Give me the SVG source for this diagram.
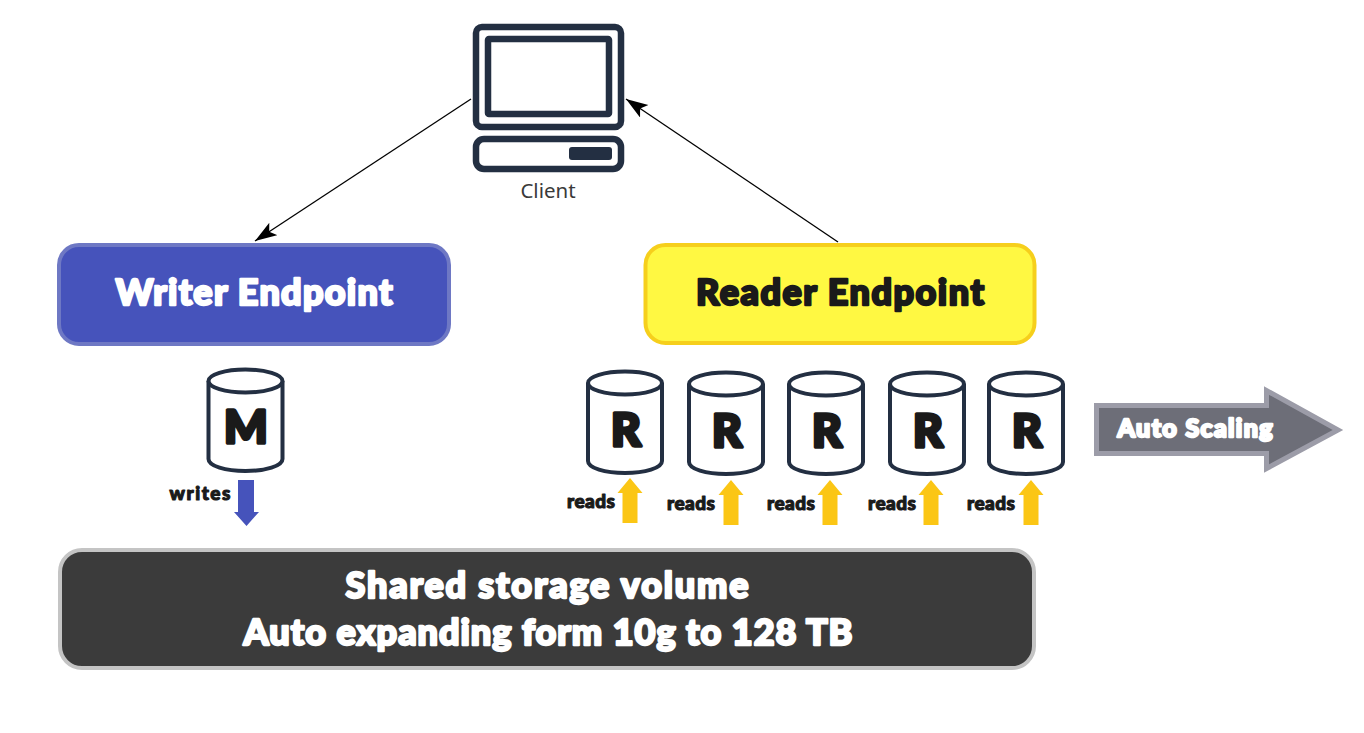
<svg xmlns="http://www.w3.org/2000/svg" width="1364" height="733" viewBox="0 0 1364 733">
<style>
.ic{fill:none;stroke:#232f42;stroke-width:6.500}
.cy{fill:#fff;stroke:#232f42;stroke-width:4}
.t{font-family:"Lato","Liberation Sans",sans-serif;font-weight:900;text-anchor:middle;stroke-linejoin:round;paint-order:stroke}
.w{fill:#fff;stroke:#fff;stroke-width:2.400}
.k{fill:#1a1a1a;stroke:#1a1a1a;stroke-width:2.400}
.s{font-size:19px;stroke-width:1.100}
.l{font-size:46px;stroke-width:3.500}
.c{stroke:#000;stroke-width:1.300;fill:none}
.up{fill:#fbc615}
</style>
<defs>
<marker id="a" markerUnits="userSpaceOnUse" markerWidth="24" markerHeight="16" refX="22" refY="7.500" orient="auto"><path d="M0 0L22 7.500L0 15L5 7.500Z" fill="#000"/></marker>
<g id="cyl"><path class="cy" d="M-37 12V90C-37 97-20 102 0 102S37 97 37 90V12"/><ellipse class="cy" cx="0" cy="12" rx="37" ry="11.500"/></g>
<path id="upa" class="up" d="M0 0L12.500 15H7.500V45H-7.500V15H-12.500Z"/>
</defs>
<g id="connectors">
<path class="c" d="M471 99L255 241" marker-end="url(#a)"/>
<path class="c" d="M838 242L626 99" marker-end="url(#a)"/>
</g>
<g id="client">
<rect class="ic" x="476" y="27" width="145" height="100" rx="6"/>
<rect class="ic" x="488" y="39" width="121" height="75" rx="1"/>
<rect class="ic" x="476" y="139" width="145" height="30" rx="8"/>
<rect x="569" y="147" width="43" height="13" rx="3" fill="#232f42"/>
<text x="548" y="198" font-family="'Noto Sans','Open Sans',sans-serif" font-size="20.500" fill="#3a3a3a" text-anchor="middle">Client</text>
</g>
<g id="writer-endpoint">
<rect x="59" y="245" width="390" height="99" rx="20" fill="#4653bb" stroke="#6e78c4" stroke-width="4"/>
<text class="t w" x="254" y="305" font-size="36" textLength="277">Writer Endpoint</text>
</g>
<g id="reader-endpoint">
<rect x="645.500" y="245" width="389" height="98" rx="20" fill="#fff842" stroke="#f6cf1c" stroke-width="4"/>
<text class="t k" x="840" y="305" font-size="36" textLength="288">Reader Endpoint</text>
</g>
<g id="master">
<use href="#cyl" x="245.500" y="369"/>
<text class="t k l" x="246" y="443">M</text>
</g>
<g id="writes">
<text class="t k s" x="200" y="500" textLength="61">writes</text>
<path fill="#4653bb" d="M238 480H254V512H259L246.500 526L234 512H238Z"/>
</g>
<g id="replica-1"><use href="#cyl" x="625" y="371"/><text class="t k l" x="626" y="446">R</text></g>
<g id="replica-2"><use href="#cyl" x="726" y="372"/><text class="t k l" x="727" y="447">R</text></g>
<g id="replica-3"><use href="#cyl" x="826" y="372"/><text class="t k l" x="827" y="447">R</text></g>
<g id="replica-4"><use href="#cyl" x="927" y="372"/><text class="t k l" x="928" y="447">R</text></g>
<g id="replica-5"><use href="#cyl" x="1026" y="372"/><text class="t k l" x="1027" y="447">R</text></g>
<g id="reads-1"><text class="t k s" x="591" y="508" textLength="48">reads</text><use href="#upa" x="630" y="478"/></g>
<g id="reads-2"><text class="t k s" x="691" y="510" textLength="48">reads</text><use href="#upa" x="731" y="480"/></g>
<g id="reads-3"><text class="t k s" x="791" y="510" textLength="48">reads</text><use href="#upa" x="830" y="480"/></g>
<g id="reads-4"><text class="t k s" x="892" y="510" textLength="48">reads</text><use href="#upa" x="931" y="480"/></g>
<g id="reads-5"><text class="t k s" x="991" y="510" textLength="48">reads</text><use href="#upa" x="1031" y="480"/></g>
<g id="auto-scaling">
<path d="M1096.500 405.500H1266.500V390.500L1338 430L1266.500 468.500V453.500H1096.500Z" fill="#6d6e78" stroke="#9c9ca8" stroke-width="5"/>
<text class="t w" x="1195" y="437" font-size="25" textLength="155">Auto Scaling</text>
</g>
<g id="storage">
<rect x="60" y="550" width="974" height="118" rx="22" fill="#3b3b3b" stroke="#c4c4c4" stroke-width="4"/>
<text class="t w" x="547" y="598" font-size="36" textLength="403">Shared storage volume</text>
<text class="t w" x="548" y="645" font-size="36" textLength="609">Auto expanding form 10g to 128 TB</text>
</g>
</svg>
